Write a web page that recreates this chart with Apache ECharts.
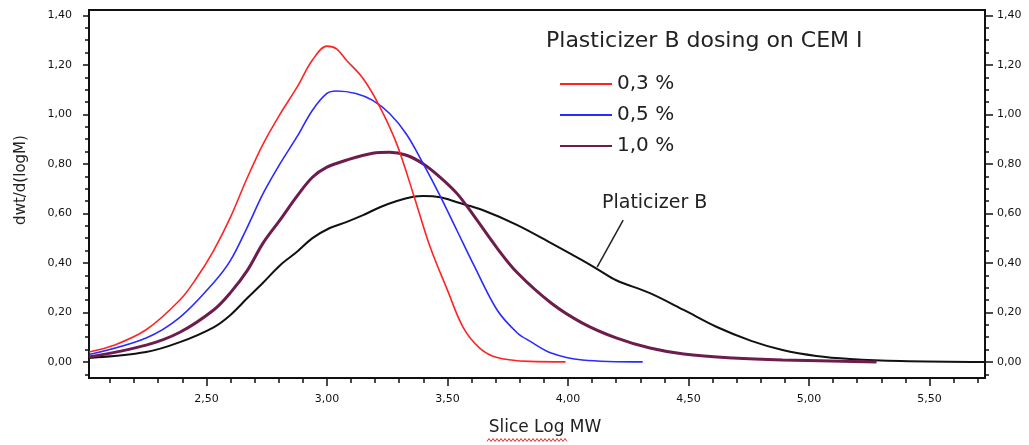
<!DOCTYPE html>
<html>
<head>
<meta charset="utf-8">
<style>
  html, body { margin: 0; padding: 0; background: #fff; }
  #chart { width: 1029px; height: 445px; }
</style>
<script src="https://cdn.jsdelivr.net/npm/echarts@6/dist/echarts.min.js"></script>
</head>
<body>
<div id="chart"></div>
<script>
// axis ranges
var X_MIN = 2.013
var X_MAX = 5.73
var Y_MIN = -0.065
var Y_MAX = 1.422

var xMajorTicks = [2.5, 3.0, 3.5, 4.0, 4.5, 5.0, 5.5]
var yMajorTicks = [0, 0.2, 0.4, 0.6, 0.8, 1.0, 1.2, 1.4]
var xMinorTicks = []
for (var i = 21; i <= 57; i++) xMinorTicks.push(i / 10)
var yMinorTicks = []
for (var j = -1; j <= 28; j++) yMinorTicks.push(j / 20)

// 0,3 %
var redX = [2.013, 2.113, 2.25, 2.39, 2.46, 2.53, 2.60, 2.67, 2.735, 2.805, 2.876, 2.94, 3.0, 3.04, 3.08, 3.15, 3.22, 3.29, 3.358, 3.428, 3.5, 3.565, 3.635, 3.706, 3.84, 3.99]
var redY = [0.04, 0.066, 0.13, 0.25, 0.34, 0.45, 0.585, 0.745, 0.88, 1.0, 1.11, 1.22, 1.276, 1.265, 1.22, 1.145, 1.03, 0.88, 0.68, 0.465, 0.29, 0.14, 0.055, 0.018, 0.002, 0]
// 0,5 %
var blueX = [2.013, 2.25, 2.39, 2.53, 2.60, 2.67, 2.735, 2.805, 2.876, 2.94, 3.0, 3.04, 3.12, 3.19, 3.26, 3.33, 3.40, 3.47, 3.54, 3.61, 3.706, 3.79, 3.84, 3.93, 4.06, 4.31]
var blueY = [0.03, 0.097, 0.18, 0.32, 0.41, 0.545, 0.68, 0.80, 0.91, 1.017, 1.085, 1.095, 1.085, 1.057, 1.004, 0.92, 0.80, 0.67, 0.53, 0.39, 0.21, 0.117, 0.085, 0.036, 0.008, 0]
// 1,0 %
var purpleX = [2.013, 2.25, 2.39, 2.53, 2.60, 2.67, 2.735, 2.805, 2.876, 2.94, 3.0, 3.08, 3.19, 3.26, 3.33, 3.40, 3.47, 3.54, 3.61, 3.706, 3.79, 3.93, 4.06, 4.20, 4.34, 4.48, 4.685, 4.89, 5.28]
var purpleY = [0.02, 0.068, 0.12, 0.21, 0.28, 0.37, 0.48, 0.573, 0.67, 0.746, 0.787, 0.815, 0.843, 0.847, 0.835, 0.80, 0.746, 0.68, 0.59, 0.46, 0.36, 0.238, 0.157, 0.097, 0.056, 0.032, 0.016, 0.008, 0]
// Plasticizer B alone
var blackX = [2.013, 2.25, 2.39, 2.53, 2.60, 2.67, 2.735, 2.805, 2.876, 2.94, 3.01, 3.08, 3.15, 3.22, 3.29, 3.358, 3.40, 3.47, 3.54, 3.648, 3.79, 3.93, 4.06, 4.13, 4.20, 4.34, 4.48, 4.62, 4.76, 4.89, 5.03, 5.17, 5.38, 5.73]
var blackY = [0.016, 0.04, 0.08, 0.14, 0.19, 0.258, 0.32, 0.39, 0.445, 0.50, 0.54, 0.565, 0.593, 0.625, 0.65, 0.667, 0.67, 0.665, 0.645, 0.613, 0.553, 0.48, 0.41, 0.37, 0.33, 0.278, 0.21, 0.14, 0.085, 0.048, 0.024, 0.012, 0.004, 0]

var legendNames = ['0,3 %', '0,5 %', '1,0 %']
var pointerStart = [4.229, 0.573]
var pointerEnd = [4.121, 0.383]

function zip (xs, ys) {
  return xs.map(function (x, k) { return [x, ys[k]] })
}
function comma (v) {
  return v.toFixed(2).replace('.', ',')
}

var FONT = 'DejaVu Sans'
var INK = '#111'

function xAxisOf (extra) {
  return Object.assign({
    type: 'value', min: X_MIN, max: X_MAX, gridIndex: 0, position: 'bottom',
    axisLine: { show: false, onZero: false },
    splitLine: { show: false },
    axisLabel: { show: false },
    axisTick: { show: false }
  }, extra)
}
function yAxisOf (extra) {
  return Object.assign({
    type: 'value', min: Y_MIN, max: Y_MAX, gridIndex: 0, position: 'left',
    axisLine: { show: false, onZero: false },
    splitLine: { show: false },
    axisLabel: { show: false },
    axisTick: { show: false }
  }, extra)
}
function ticks (values, len) {
  return { show: true, length: len, customValues: values, lineStyle: { color: INK, width: 1.5 } }
}
function labels (values, margin) {
  return {
    show: true, customValues: values, margin: margin, formatter: comma,
    fontFamily: FONT, fontSize: 11, color: '#111'
  }
}

// little red spell-check squiggle under the axis title
var squiggle = []
for (var s = 0; s <= 40; s++) squiggle.push([487 + s * 2, 440 + (s % 2 ? -1.5 : 1.5)])

var chart = echarts.init(document.getElementById('chart'))
chart.setOption({
  animation: false,
  backgroundColor: '#fff',
  title: {
    text: 'Plasticizer B dosing on CEM I',
    left: 546, top: 30, padding: 0,
    textStyle: { fontFamily: FONT, fontSize: 22, fontWeight: 'normal', color: '#222' }
  },
  legend: {
    data: legendNames,
    orient: 'vertical', left: 560, top: 74, padding: 0,
    icon: 'rect', itemWidth: 52, itemHeight: 2, itemGap: 11,
    textStyle: { fontFamily: FONT, fontSize: 20, color: '#222' }
  },
  grid: {
    show: true, left: 89, right: 44, top: 10, bottom: 67,
    borderColor: INK, borderWidth: 2, backgroundColor: '#fff'
  },
  xAxis: [
    xAxisOf({}),
    xAxisOf({ axisTick: ticks(xMinorTicks, 5) }),
    xAxisOf({
      axisTick: ticks(xMajorTicks, 8),
      axisLabel: labels(xMajorTicks, 16),
      name: 'Slice Log MW', nameLocation: 'middle', nameGap: 41,
      nameTextStyle: { fontFamily: FONT, fontSize: 17, color: '#222', padding: [0, 0, 0, 16] }
    })
  ],
  yAxis: [
    yAxisOf({
      name: 'dwt/d(logM)', nameLocation: 'middle', nameGap: 60,
      nameTextStyle: { fontFamily: FONT, fontSize: 15, color: '#222', padding: [0, 0, 0, 28] }
    }),
    yAxisOf({ axisTick: ticks(yMinorTicks, 4) }),
    yAxisOf({ axisTick: ticks(yMajorTicks, 6), axisLabel: labels(yMajorTicks, 17) }),
    yAxisOf({ position: 'right', axisTick: ticks(yMinorTicks, 4) }),
    yAxisOf({ position: 'right', axisTick: ticks(yMajorTicks, 8), axisLabel: labels(yMajorTicks, 12) })
  ],
  series: [
    {
      name: 'Plasticizer B', type: 'line', data: zip(blackX, blackY),
      showSymbol: false, smooth: 0.35,
      lineStyle: { color: INK, width: 2 }, itemStyle: { color: INK },
      markLine: {
        silent: true, symbol: ['none', 'none'], label: { show: false },
        lineStyle: { color: '#222', width: 1.5, type: 'solid' },
        data: [[{ coord: pointerStart }, { coord: pointerEnd }]]
      }
    },
    {
      name: legendNames[2], type: 'line', data: zip(purpleX, purpleY),
      showSymbol: false, smooth: 0.35,
      lineStyle: { color: '#6e1c4e', width: 3 }, itemStyle: { color: '#6e1c4e' }
    },
    {
      name: legendNames[1], type: 'line', data: zip(blueX, blueY),
      showSymbol: false, smooth: 0.35,
      lineStyle: { color: '#2b2bff', width: 1.6 }, itemStyle: { color: '#2b2bff' }
    },
    {
      name: legendNames[0], type: 'line', data: zip(redX, redY),
      showSymbol: false, smooth: 0.35,
      lineStyle: { color: '#ff2424', width: 1.6 }, itemStyle: { color: '#ff2424' }
    }
  ],
  graphic: [
    {
      type: 'text', left: 602, top: 194,
      style: { text: 'Platicizer B', fontFamily: FONT, fontSize: 19, fill: '#222' }
    },
    {
      type: 'polyline', silent: true,
      shape: { points: squiggle },
      style: { stroke: '#e03030', lineWidth: 1, fill: null }
    }
  ]
})
</script>
</body>
</html>
